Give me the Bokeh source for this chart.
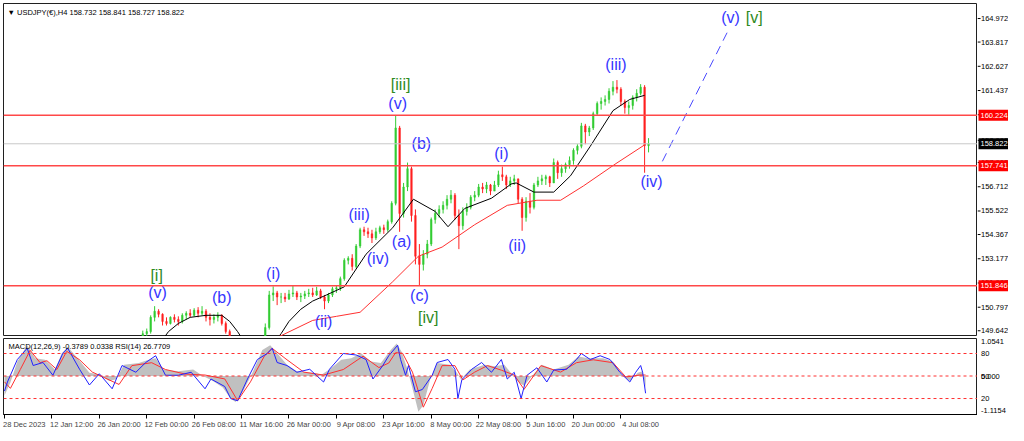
from bokeh.plotting import figure
from bokeh.layouts import column, row
from bokeh.models import Range1d, FixedTicker, Label, Span, ColumnDataSource
from bokeh.core.properties import value
from bokeh.embed import file_html
from bokeh.resources import INLINE

# ---------------- data (bar index = coarse H4 block) ----------------
first_open = 141.4
closes = [
    141.6, 141.9, 142.8, 143.5, 144.3, 144.6, 144.2, 144.0, 144.9, 145.3,
    145.2, 145.0, 145.2, 146.0, 147.2, 148.0, 148.2, 148.1, 148.1, 147.8,
    148.2, 147.6, 147.9, 148.2, 148.0, 147.6, 147.2, 146.8, 146.3, 148.2,
    148.6, 148.2, 148.9, 149.2, 149.0, 149.5, 149.6, 150.3, 150.6, 150.45,
    150.1, 150.0, 150.3, 150.2, 150.1, 150.4, 150.5, 150.4, 150.65, 150.5,
    150.6, 150.3, 150.2, 150.3, 150.4, 150.0, 149.6, 149.1, 148.5, 147.5,
    146.9, 147.2, 147.8, 148.3, 149.0, 149.2, 149.8, 151.4, 151.5, 151.3,
    151.3, 151.2, 151.45, 151.5, 151.3, 151.35, 151.45, 151.5, 151.4, 151.6,
    151.3, 151.1, 151.4, 151.7, 151.75, 152.2, 153.1, 153.2, 152.8, 153.8,
    154.6, 154.5, 154.4, 154.2, 154.5, 154.7, 154.6, 155.0, 155.9, 159.6,
    155.4, 156.7, 157.6, 155.3, 153.3, 152.9, 153.4, 153.9, 155.1, 155.4,
    155.6, 155.8, 156.1, 156.3, 155.3, 154.8, 155.5, 155.7, 156.2, 156.3,
    156.7, 156.6, 156.8, 156.5, 156.8, 157.3, 157.2, 156.8, 157.0, 157.1,
    156.1, 155.2, 156.0, 155.7, 156.8, 157.0, 157.1, 157.2, 156.9, 157.9,
    157.4, 157.6, 157.8, 158.0, 158.5, 158.7, 159.7, 159.4, 159.6, 160.3,
    160.8, 160.9, 161.0, 161.4, 161.6, 161.5, 160.9, 160.6, 160.7, 161.1,
    161.3, 161.6, 158.73, 158.82,
]
highs = [
    141.9, 142.2, 143.1, 143.9, 144.6, 144.9, 144.7, 144.5, 145.2, 145.6,
    145.6, 145.4, 145.5, 146.3, 147.5, 148.3, 148.5, 148.4, 148.4, 148.2,
    148.5, 148.2, 148.2, 148.5, 148.4, 148.1, 147.7, 147.3, 146.9, 148.5,
    148.9, 148.7, 149.2, 149.3, 149.3, 149.65, 149.75, 150.4, 150.85, 150.7,
    150.5, 150.3, 150.35, 150.45, 150.35, 150.5, 150.6, 150.7, 150.75, 150.8,
    150.85, 150.7, 150.5, 150.45, 150.55, 150.45, 150.1, 149.7, 149.2, 148.6,
    147.7, 147.5, 148.0, 148.5, 149.1, 149.3, 150.0, 151.6, 151.82, 151.6,
    151.5, 151.5, 151.65, 151.85, 151.6, 151.5, 151.6, 151.7, 151.75, 151.8,
    151.7, 151.4, 151.5, 151.8, 151.85, 152.3, 153.2, 153.3, 153.4, 153.9,
    154.7, 154.75, 154.7, 154.6, 154.7, 154.8, 154.85, 155.1, 156.0, 160.22,
    159.7, 156.9, 157.9, 157.7, 155.6, 153.9, 153.6, 154.1, 155.2, 155.6,
    155.8, 156.0, 156.3, 156.55, 156.4, 155.6, 155.7, 155.9, 156.3, 156.5,
    156.85, 156.9, 156.95, 156.85, 157.0, 157.5, 157.7, 157.3, 157.2, 157.3,
    157.1, 156.2, 156.2, 156.4, 156.9, 157.2, 157.3, 157.3, 157.25, 158.1,
    158.0, 157.8, 157.9, 158.2, 158.6, 158.8, 159.85, 159.8, 159.7, 160.4,
    160.9, 161.1, 161.2, 161.55, 161.9, 161.95, 161.6, 161.0, 160.9, 161.2,
    161.5, 161.75, 161.7, 159.1,
]
lows = [
    141.2, 141.5, 141.8, 142.7, 143.4, 144.2, 143.9, 143.6, 143.9, 144.8,
    144.9, 144.7, 144.9, 145.1, 145.9, 147.1, 147.8, 147.8, 147.7, 147.5,
    147.7, 147.4, 147.4, 147.8, 147.7, 147.4, 146.9, 146.5, 146.0, 146.3,
    148.1, 148.0, 148.1, 148.8, 148.8, 148.9, 149.3, 149.5, 150.1, 150.3,
    149.9, 149.9, 149.95, 150.05, 149.9, 150.0, 150.2, 150.3, 150.35, 150.3,
    150.4, 150.1, 149.9, 150.0, 150.1, 149.9, 149.5, 148.9, 148.3, 147.3,
    146.5, 146.6, 147.0, 147.6, 148.2, 148.8, 149.1, 149.7, 151.1, 150.9,
    151.0, 151.05, 151.15, 151.3, 151.15, 151.05, 151.2, 151.3, 151.3, 151.35,
    151.2, 150.7, 151.0, 151.3, 151.5, 151.6, 152.1, 152.9, 152.6, 152.7,
    153.7, 154.3, 154.2, 153.95, 154.1, 154.4, 154.4, 154.5, 154.9, 155.8,
    154.5, 155.2, 156.5, 155.0, 152.9, 151.86, 152.6, 153.2, 153.8, 154.9,
    155.2, 155.4, 155.6, 155.9, 155.1, 153.65, 154.6, 155.3, 155.6, 156.0,
    156.2, 156.4, 156.4, 156.3, 156.5, 156.7, 157.0, 156.6, 156.7, 156.8,
    155.9, 154.55, 155.0, 155.4, 155.6, 156.7, 156.8, 156.8, 156.7, 156.9,
    157.1, 157.2, 157.4, 157.6, 157.8, 158.3, 158.6, 158.8, 159.2, 159.5,
    160.2, 160.5, 160.7, 160.8, 161.2, 161.3, 160.7, 160.3, 160.25, 160.5,
    160.9, 161.2, 157.4, 158.4,
]

# moving averages (bar index, price)
ma_fast_bar = [40, 41.5, 44, 47, 51, 55, 57, 59, 61, 65, 68, 70, 72, 75, 78, 81.5, 86,
               91.5, 98.25, 103.5, 109, 112.25, 116.5, 123.25, 128.25, 129.5, 134, 139,
               143.25, 148.25, 154, 158.25, 162]
ma_fast = [149.2, 149.6, 150.0, 150.3, 150.4, 150.4, 150.1, 149.6, 149.0, 148.7, 149.0, 149.5,
           150.1, 150.7, 151.1, 151.4, 151.8, 153.4, 154.7, 156.1, 155.5, 154.75, 155.65,
           156.15, 156.85, 156.9, 156.45, 156.45, 157.25, 158.7, 160.45, 161.0, 161.2]
ma_slow_bar = [60, 70, 78, 84, 90, 98.25, 104.75, 110.75, 119, 127.25, 134.75, 140.75, 146.5,
               154.75, 162.25]
ma_slow = [148.6, 149.4, 150.15, 150.35, 150.55, 152.05, 153.3, 153.75, 154.85, 155.8, 156.05,
           156.05, 156.75, 157.85, 158.8]

# horizontal levels and price scale
levels_red = [160.224, 157.741, 151.846]
last_price = 158.822
price_ticks = [149.642, 150.797, 151.987, 153.177, 154.367, 155.522, 156.712, 157.902,
               158.992, 160.247, 161.437, 162.627, 163.817, 164.972]

# wave labels
blue_text = ["(v)", "(iii)", "(iv)", "(v)", "(b)", "(iii)", "(a)", "(iv)", "(c)", "(i)", "(ii)",
             "(v)", "(b)", "(i)", "(ii)", "(iii)"]
blue_bar = [183.75, 154.75, 163.75, 99.5, 105.5, 89.75, 100.5, 94.5, 105, 125.75, 129.75,
            38.75, 55, 68, 80.75, 19]
blue_price = [165.0, 162.70, 156.96, 160.79, 158.82, 155.33, 154.04, 153.18, 151.36, 158.35,
              153.85, 151.50, 151.26, 152.46, 150.11, 149.0]
green_text = ["[v]", "[iii]", "[iv]", "[i]"]
green_bar = [189.75, 100.25, 107.25, 38.5]
green_price = [165.0, 161.74, 150.31, 152.36]

# projected path
proj_bar = [166.5, 183.5]
proj_price = [157.96, 164.52]

# indicator panel
rsi_bar = [0, 0.75, 3.25, 5.75, 7.25, 9.75, 12.25, 14.75, 16, 19, 21.5, 24, 27.25, 29.75, 33.25,
           35.75, 38.25, 40.75, 44, 47.25, 50.75, 52.25, 55.75, 57.25, 59, 61.5, 64, 66.5, 67.75,
           69, 71.5, 74, 77.25, 80.75, 82.25, 85.75, 89, 91.5, 93.25, 95.75, 97.25, 99.5, 100.25,
           101.5, 102.25, 104, 105.75, 108.25, 109.5, 112.25, 114, 114.75, 115.75, 118.25,
           120.75, 123.25, 125.75, 127.25, 129, 130.75, 132.25, 134.75, 137.25, 139, 142.25,
           144.75, 146, 148.25, 150.75, 153.25, 155.75, 158.25, 159.75, 161, 161.5, 162.25]
rsi_val = [30, 42, 72, 87, 64, 68, 51, 80, 87, 59, 38, 53, 33, 64, 55, 68, 77, 51, 51, 55,
           33, 46, 36, 20, 17, 46, 72, 80, 87, 68, 64, 55, 59, 42, 59, 80, 78, 72, 46, 64,
           77, 91, 72, 51, 64, 29, 32, 51, 68, 72, 59, 20, 45, 59, 68, 55, 72, 46, 55, 20,
           51, 61, 42, 58, 59, 72, 80, 72, 77, 72, 55, 42, 55, 64, 55, 27]
sig_bar = [0, 1.5, 4, 6.5, 9, 10.75, 13.25, 15.75, 19, 22.25, 26.5, 29, 32.25, 37.25, 40.75,
           45.75, 50.75, 55.75, 59, 62.25, 65.75, 67.75, 71.5, 75.75, 80.75, 85.75, 90.75, 94.75,
           97.25, 99, 100.75, 103.25, 106, 108.25, 110.75, 114, 116, 119, 122.25, 125.75, 129,
           131.5, 135.75, 140.75, 144.75, 149, 154, 157.25, 160.75, 162.25]
sig_val = [-0.18, -0.38, 0.2, 0.79, 0.41, 0.47, 0.2, 0.76, 0.5, 0.12, -0.12, -0.26, 0.32, 0.41,
           0.2, 0.06, 0.03, -0.09, -0.76, -0.18, 0.61, 0.85, 0.5, 0.12, 0.03, 0.2, 0.61, 0.26,
           0.4, 0.72, 0.70, 0.12, -0.96, -0.38, 0.32, 0.32, -0.12, 0.12, 0.32, 0.18, 0.03,
           -0.41, 0.32, 0.12, 0.41, 0.5, 0.41, -0.03, 0.03, 0.03]
macd_bar = [0, 1.5, 3.25, 5.75, 7.75, 10.25, 12.75, 14.5, 16, 18.5, 21.5, 24, 26.5, 28.25, 30.25,
            34, 36.5, 38.25, 40.25, 44, 47.75, 50.25, 52.75, 55.25, 57.25, 58.5, 60.25, 62.75,
            65.25, 67.25, 69, 71.5, 74, 77.75, 80.25, 82.25, 85.25, 87.75, 90.25, 92.75, 95.25,
            97.75, 99.25, 100.5, 102, 103.5, 104.75, 106, 107.75, 109.5, 112.75, 114.5, 115.5,
            117.75, 121.5, 124, 126.5, 128.5, 130.25, 131.5, 133.5, 136, 139, 142.75, 145.25,
            147.75, 151.5, 154, 156.5, 158.25, 160.25, 161.5, 162.25]
macd_val = [-0.6, -0.2, 0.45, 0.95, 0.55, 0.5, 0.2, 0.7, 0.9, 0.55, 0.1, 0.05, -0.15, -0.1, 0.35,
            0.4, 0.5, 0.55, 0.2, 0.15, 0.2, 0.0, -0.15, -0.35, -0.7, -0.8, -0.5, 0.1, 0.8, 0.95,
            0.7, 0.35, 0.15, 0.1, 0.05, 0.2, 0.5, 0.55, 0.7, 0.45, 0.4, 0.8, 1.0, 0.75, 0.2,
            -0.5, -1.1, -0.9, -0.1, 0.4, 0.35, 0.1, -0.1, 0.2, 0.35, 0.3, 0.35, 0.05, -0.2,
            -0.3, 0.0, 0.35, 0.2, 0.35, 0.6, 0.55, 0.55, 0.45, 0.0, -0.15, 0.1, 0.15, -0.38]
ind_levels = [80, 50, 20]
ind_scale_pos = [96, 80, 50, 50, 20, 4]
ind_scale_text = ["1.0541", "80", "50", "0.000", "20", "-1.1154"]

date_ticks = [0, 12, 24, 36, 48, 60, 72, 84, 96, 108, 120, 132, 144, 156]
date_labels = ["28 Dec 2023", "12 Jan 12:00", "26 Jan 20:00", "12 Feb 00:00", "26 Feb 08:00",
               "11 Mar 16:00", "26 Mar 00:00", "9 Apr 08:00", "23 Apr 16:00", "8 May 00:00",
               "22 May 08:00", "5 Jun 16:00", "20 Jun 00:00", "4 Jul 08:00"]

# ---------------- styling ----------------
FONT = "Liberation Sans"
BLUE = "#3636ff"
GREEN = "#2e8a1e"
UP = "#33cc33"
DOWN = "#ff2020"
LVL = "#ff4848"
AX_FS = "7.5px"
FW, SW = 974, 31          # chart frame width, price-scale width
H1, H2 = 333, 76          # frame heights

X0, X1 = -0.25, 246.25
xr = Range1d(X0, X1)
yr1 = Range1d(149.36, 165.71)
yr2 = Range1d(-1.3, 100)
sr = Range1d(0, SW)


def base(**kw):
    f = figure(output_backend="svg", toolbar_location=None, **kw)
    f.grid.visible = False
    f.background_fill_color = "white"
    f.border_fill_color = "white"
    return f


# ---------------- main price panel ----------------
p1 = base(frame_width=FW, frame_height=H1, x_range=xr, y_range=yr1,
          x_axis_location=None, y_axis_location=None,
          min_border_left=3, min_border_right=0, min_border_top=3, min_border_bottom=0)
p1.outline_line_color = "#202020"

for lv in levels_red:
    p1.add_layout(Span(location=lv, dimension="width", line_color=LVL, line_width=1.5))
p1.add_layout(Span(location=last_price, dimension="width", line_color="#c8c8c8", line_width=1))

opens = [first_open] + closes[:-1]
colors = [UP if c >= o else DOWN for o, c in zip(opens, closes)]
src = ColumnDataSource(dict(
    x=list(range(len(closes))),
    hi=[max(h, o, c) for h, o, c in zip(highs, opens, closes)],
    lo=[min(l, o, c) for l, o, c in zip(lows, opens, closes)],
    top=[max(o, c) for o, c in zip(opens, closes)],
    bot=[min(o, c) for o, c in zip(opens, closes)],
    color=colors))
p1.segment(x0="x", y0="lo", x1="x", y1="hi", line_color="color", line_width=1, source=src)
p1.vbar(x="x", width=0.4, top="top", bottom="bot", fill_color="color", line_color="color",
        line_width=0.5, source=src)

p1.line(ma_fast_bar, ma_fast, line_color="black", line_width=1)
p1.line(ma_slow_bar, ma_slow, line_color="#ff3030", line_width=1)
p1.line(proj_bar, proj_price, line_color="#4a4aff", line_width=1, line_dash="9 6")

p1.text(x=blue_bar, y=blue_price, text=blue_text, text_align="center", text_baseline="middle",
        text_font=value(FONT), text_font_size="16px", text_color=BLUE)
p1.text(x=green_bar, y=green_price, text=green_text, text_align="center",
        text_baseline="middle", text_font=value(FONT), text_font_size="16px",
        text_color=GREEN)

p1.add_layout(Label(x=X0, y=yr1.end, x_offset=4, y_offset=-4, text_baseline="top",
                    text="\u25bc USDJPY(\u20ac),H4  158.732 158.841 158.727 158.822",
                    text_font=FONT, text_font_size="7.5px", text_color="black"))

# ---------------- price scale column ----------------
ps = base(frame_width=SW, frame_height=H1, x_range=sr, y_range=yr1,
          x_axis_location=None, y_axis_location=None,
          min_border_left=0, min_border_right=0, min_border_top=3, min_border_bottom=0)
ps.outline_line_color = None
ps.segment(x0=0, y0=price_ticks, x1=3, y1=price_ticks, line_color="black", line_width=1)
ps.text(x=3.5, y=price_ticks, text=[f"{t:.3f}" for t in price_ticks], text_align="left",
        text_baseline="middle", text_font=value(FONT), text_font_size=AX_FS,
        text_color="black")
box_y = levels_red + [last_price]
box_c = ["#ff0000"] * len(levels_red) + ["#000000"]
ps.rect(x=16, y=box_y, width=30, height=11, height_units="screen", fill_color=box_c,
        line_color=None)
ps.text(x=3, y=box_y, text=[f"{v:.3f}" for v in box_y], text_align="left",
        text_baseline="middle", text_font=value(FONT), text_font_size=AX_FS,
        text_color="white")

# ---------------- indicator panel ----------------
p2 = base(frame_width=FW, frame_height=H2, x_range=xr, y_range=yr2, y_axis_location=None,
          min_border_left=3, min_border_right=0, min_border_top=2, min_border_bottom=0)
p2.extra_y_ranges = {"macd": Range1d(-1.185, 1.155)}
p2.outline_line_color = "#202020"

p2.varea(x=macd_bar, y1=0, y2=macd_val, y_range_name="macd", fill_color="#c0c0c0")
for lv in ind_levels:
    p2.add_layout(Span(location=lv, dimension="width", line_color="#ff3030", line_width=1,
                       line_dash="3 3"))
p2.line(sig_bar, sig_val, y_range_name="macd", line_color="#ff3030", line_width=1)
p2.line(rsi_bar, rsi_val, line_color="#2020ff", line_width=1)

p2.add_layout(Label(x=X0, y=yr2.end, x_offset=5, y_offset=-3, text_baseline="top",
                    text="MACD(12,26,9) -0.3789 0.0338  RSI(14) 26.7709",
                    text_font=FONT, text_font_size="7.5px", text_color="black"))

xa = p2.xaxis[0]
label_pos = [t + 5 for t in date_ticks]
xa.ticker = FixedTicker(ticks=label_pos, minor_ticks=date_ticks)
xa.major_label_overrides = {lp: lab for lp, lab in zip(label_pos, date_labels)}
xa.major_tick_out = 0
xa.major_tick_in = 0
xa.minor_tick_out = 4
xa.minor_tick_in = 0
xa.major_label_standoff = 1
xa.major_label_text_font = FONT
xa.major_label_text_font_size = AX_FS
xa.axis_line_color = "black"

ps2 = base(frame_width=SW, frame_height=H2, x_range=sr, y_range=yr2,
           x_axis_location=None, y_axis_location=None,
           min_border_left=0, min_border_right=0, min_border_top=2, min_border_bottom=0)
ps2.outline_line_color = None
ps2.text(x=3.5, y=ind_scale_pos, text=ind_scale_text, text_align="left",
         text_baseline="middle", text_font=value(FONT), text_font_size=AX_FS,
         text_color="black")

layout = column(row(p1, ps), row(p2, ps2))
open("out.html", "w").write(file_html(layout, INLINE))
